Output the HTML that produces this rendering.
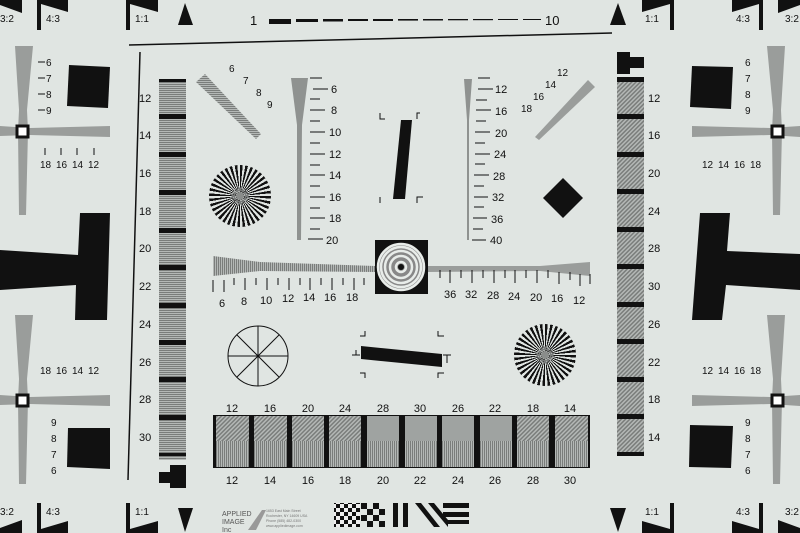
<!DOCTYPE html>
<html><head><meta charset="utf-8"><style>
html,body{margin:0;padding:0;background:#e0e5e2;}
body{position:relative;width:800px;height:533px;overflow:hidden}
svg{display:block}
text{font-family:"Liberation Sans",sans-serif;fill:#111}
.star{position:absolute;border-radius:50%;background:repeating-conic-gradient(#111 0deg 5deg,#e0e5e2 5deg 10deg)}
.star::after{content:"";position:absolute;left:50%;top:50%;width:8px;height:8px;margin:-4px;border-radius:50%;background:#8a8d8b}
</style></head><body>
<svg width="800" height="533" viewBox="0 0 800 533" xmlns="http://www.w3.org/2000/svg">
<defs>
<pattern id="hs" width="4" height="2" patternUnits="userSpaceOnUse"><rect width="4" height="2" fill="#b4b8b6"/><rect width="4" height="1" fill="#7a7d7b"/></pattern>
<pattern id="vs" width="2" height="4" patternUnits="userSpaceOnUse"><rect width="2" height="4" fill="#b4b8b6"/><rect width="1" height="4" fill="#7a7d7b"/></pattern>
<pattern id="ds" width="3" height="3" patternUnits="userSpaceOnUse" patternTransform="rotate(45)"><rect width="3" height="3" fill="#b4b8b6"/><rect width="1.5" height="3" fill="#7a7d7b"/></pattern>
<pattern id="chk" width="8" height="8" patternUnits="userSpaceOnUse"><rect width="8" height="8" fill="#eee"/><rect width="4" height="4" fill="#111"/><rect x="4" y="4" width="4" height="4" fill="#111"/></pattern>
</defs>
<rect width="800" height="533" fill="#e0e5e2"/>

<g fill="#111">
<polygon points="0,0 22,0 22,13 0,5"/><text x="0" y="22" font-size="10">3:2</text>
<rect x="37" y="0" width="4" height="30"/><polygon points="41,0 68,0 68,12 41,4"/><text x="46" y="22" font-size="10">4:3</text>
<rect x="126" y="0" width="4" height="30"/><polygon points="130,0 158,0 158,12 130,4"/><text x="135" y="22" font-size="10">1:1</text>
<polygon points="185,3 178,25 193,25"/>
<polygon points="618,3 610,25 626,25"/>
<rect x="670" y="0" width="4" height="30"/><polygon points="670,0 642,0 642,12 670,4"/><text x="645" y="22" font-size="10">1:1</text>
<rect x="759" y="0" width="4" height="30"/><polygon points="759,0 732,0 732,12 759,4"/><text x="736" y="22" font-size="10">4:3</text>
<polygon points="800,0 778,0 778,13 800,5"/><text x="785" y="22" font-size="10">3:2</text>
<polygon points="0,533 22,533 22,520 0,528"/><text x="0" y="515" font-size="10">3:2</text>
<rect x="37" y="503" width="4" height="30"/><polygon points="41,533 68,533 68,521 41,529"/><text x="46" y="515" font-size="10">4:3</text>
<rect x="126" y="503" width="4" height="30"/><polygon points="130,533 158,533 158,521 130,529"/><text x="135" y="515" font-size="10">1:1</text>
<polygon points="178,508 193,508 185,532"/>
<polygon points="610,508 626,508 618,532"/>
<rect x="670" y="503" width="4" height="30"/><polygon points="670,533 642,533 642,521 670,529"/><text x="645" y="515" font-size="10">1:1</text>
<rect x="759" y="503" width="4" height="30"/><polygon points="759,533 732,533 732,521 759,529"/><text x="736" y="515" font-size="10">4:3</text>
<polygon points="800,533 778,533 778,520 800,528"/><text x="785" y="515" font-size="10">3:2</text>
</g>
<text x="250" y="25" font-size="13">1</text><text x="545" y="25" font-size="13">10</text>
<g fill="#111"><rect x="269" y="19" width="22" height="5"/><rect x="296" y="19" width="22" height="3"/><rect x="323" y="19" width="20" height="2.5"/><rect x="348" y="19" width="20" height="2"/><rect x="373" y="19" width="20" height="2"/><rect x="398" y="19" width="20" height="1.6"/><rect x="423" y="19" width="20" height="1.5"/><rect x="448" y="19" width="20" height="1.3"/><rect x="473" y="19" width="20" height="1.2"/><rect x="498" y="19" width="20" height="1"/><rect x="523" y="19" width="18" height="1"/></g>
<line x1="129" y1="45" x2="612" y2="33" stroke="#111" stroke-width="1.5"/>
<line x1="140" y1="52" x2="128" y2="480" stroke="#111" stroke-width="1.5"/>

<rect x="159" y="79" width="27" height="381" fill="url(#hs)"/>
<g fill="#111"><rect x="159" y="79" width="27" height="3"/><rect x="159" y="114" width="27" height="5"/><rect x="159" y="152" width="27" height="5"/><rect x="159" y="190" width="27" height="5"/><rect x="159" y="228" width="27" height="5"/><rect x="159" y="265" width="27" height="5"/><rect x="159" y="303" width="27" height="5"/><rect x="159" y="340" width="27" height="5"/><rect x="159" y="377" width="27" height="5"/><rect x="159" y="415" width="27" height="5"/><rect x="159" y="453" width="27" height="3"/>
<polygon points="159,472 170,472 170,465 186,465 186,488 170,488 170,483 159,483"/></g>
<g font-size="11"><text x="139" y="102">12</text><text x="139" y="139">14</text><text x="139" y="177">16</text><text x="139" y="215">18</text><text x="139" y="252">20</text><text x="139" y="290">22</text><text x="139" y="328">24</text><text x="139" y="366">26</text><text x="139" y="403">28</text><text x="139" y="441">30</text></g>

<rect x="617" y="77" width="27" height="378" fill="url(#ds)"/>
<g fill="#111"><rect x="617" y="77" width="27" height="5"/><rect x="617" y="114" width="27" height="5"/><rect x="617" y="152" width="27" height="5"/><rect x="617" y="189" width="27" height="5"/><rect x="617" y="227" width="27" height="5"/><rect x="617" y="264" width="27" height="5"/><rect x="617" y="302" width="27" height="5"/><rect x="617" y="339" width="27" height="5"/><rect x="617" y="377" width="27" height="5"/><rect x="617" y="414" width="27" height="5"/><rect x="617" y="452" width="27" height="4"/>
<polygon points="617,52 630,52 630,57 644,57 644,68 630,68 630,74 617,74"/></g>
<g font-size="11"><text x="648" y="102">12</text><text x="648" y="139">16</text><text x="648" y="177">20</text><text x="648" y="215">24</text><text x="648" y="252">28</text><text x="648" y="290">30</text><text x="648" y="328">26</text><text x="648" y="366">22</text><text x="648" y="403">18</text><text x="648" y="441">14</text></g>

<g id="crossL">
<polygon points="15,46 33,46 27,110 28,131 26,215 19,215 18,131 19,110" fill="#9a9d9b"/>
<polygon points="0,126 30,128 110,126 110,137 30,135 0,136" fill="#9a9d9b"/>
<rect x="17" y="126" width="11" height="11" fill="#fff" stroke="#111" stroke-width="3"/>
</g>
<g font-size="10"><text x="46" y="66">6</text><text x="46" y="82">7</text><text x="46" y="98">8</text><text x="46" y="114">9</text>
<text x="40" y="168">18</text><text x="56" y="168">16</text><text x="72" y="168">14</text><text x="88" y="168">12</text></g>
<g stroke="#111"><line x1="38" y1="62" x2="45" y2="62"/><line x1="38" y1="78" x2="45" y2="78"/><line x1="38" y1="94" x2="45" y2="94"/><line x1="38" y1="110" x2="45" y2="110"/>
<line x1="45" y1="148" x2="45" y2="155"/><line x1="61" y1="148" x2="61" y2="155"/><line x1="77" y1="148" x2="77" y2="155"/><line x1="94" y1="148" x2="94" y2="155"/></g>
<use href="#crossL" transform="translate(0,269)"/>
<g font-size="10"><text x="40" y="374">18</text><text x="56" y="374">16</text><text x="72" y="374">14</text><text x="88" y="374">12</text>
<text x="51" y="426">9</text><text x="51" y="442">8</text><text x="51" y="458">7</text><text x="51" y="474">6</text></g>
<polygon points="69,65 110,67 108,108 67,106" fill="#111"/>
<polygon points="68,428 110,428 110,469 67,467" fill="#111"/>
<polygon points="80,213 110,213 107,320 75,320 76,285 0,290 0,250 78,255" fill="#111"/>

<g id="crossR">
<polygon points="767,46 785,46 781,110 782,131 780,215 773,215 772,131 773,110" fill="#9a9d9b"/>
<polygon points="692,126 770,128 800,126 800,137 770,135 692,137" fill="#9a9d9b"/>
<rect x="772" y="126" width="11" height="11" fill="#fff" stroke="#111" stroke-width="3"/>
</g>
<g font-size="10"><text x="745" y="66">6</text><text x="745" y="82">7</text><text x="745" y="98">8</text><text x="745" y="114">9</text>
<text x="702" y="168">12</text><text x="718" y="168">14</text><text x="734" y="168">16</text><text x="750" y="168">18</text></g>
<use href="#crossR" transform="translate(0,269)"/>
<g font-size="10"><text x="702" y="374">12</text><text x="718" y="374">14</text><text x="734" y="374">16</text><text x="750" y="374">18</text>
<text x="745" y="426">9</text><text x="745" y="442">8</text><text x="745" y="458">7</text><text x="745" y="474">6</text></g>
<polygon points="692,66 733,67 731,109 690,107" fill="#111"/>
<polygon points="690,425 733,426 731,468 689,467" fill="#111"/>
<polygon points="700,213 730,213 727,251 800,254 800,290 726,285 722,320 692,320" fill="#111"/>

<polygon points="196,82 205,74 261,134 256,139" fill="url(#hs)"/>
<g font-size="10"><text x="229" y="72">6</text><text x="243" y="84">7</text><text x="256" y="96">8</text><text x="267" y="108">9</text></g>
<polygon points="535,137 539,140 595,87 588,80" fill="#9a9d9b"/>
<g font-size="10"><text x="557" y="76">12</text><text x="545" y="88">14</text><text x="533" y="100">16</text><text x="521" y="112">18</text></g>
<polygon points="291,78 308,78 302,125 301,240 297,240 297,125" fill="#8f9290"/>
<g stroke="#111"><line x1="310" y1="78" x2="322" y2="78"/><line x1="313" y1="89" x2="328" y2="89"/><line x1="310" y1="99" x2="320" y2="99"/><line x1="310" y1="110" x2="325" y2="110"/><line x1="310" y1="121" x2="320" y2="121"/><line x1="310" y1="132" x2="325" y2="132"/><line x1="310" y1="143" x2="320" y2="143"/><line x1="310" y1="154" x2="325" y2="154"/><line x1="310" y1="165" x2="320" y2="165"/><line x1="310" y1="175" x2="325" y2="175"/><line x1="310" y1="186" x2="320" y2="186"/><line x1="310" y1="197" x2="325" y2="197"/><line x1="310" y1="208" x2="320" y2="208"/><line x1="310" y1="218" x2="325" y2="218"/><line x1="310" y1="229" x2="320" y2="229"/><line x1="308" y1="239" x2="323" y2="239"/></g>
<g font-size="11"><text x="331" y="93">6</text><text x="331" y="114">8</text><text x="329" y="136">10</text><text x="329" y="158">12</text><text x="329" y="179">14</text><text x="329" y="201">16</text><text x="329" y="222">18</text><text x="326" y="244">20</text></g>
<polygon points="464,79 472,79 469,120 469,240 467,240 467,120" fill="#8f9290"/>
<g stroke="#111"><line x1="478" y1="78" x2="490" y2="78"/><line x1="478" y1="89" x2="493" y2="89"/><line x1="476" y1="100" x2="487" y2="100"/><line x1="476" y1="110" x2="491" y2="110"/><line x1="476" y1="121" x2="486" y2="121"/><line x1="475" y1="132" x2="490" y2="132"/><line x1="475" y1="143" x2="485" y2="143"/><line x1="475" y1="154" x2="490" y2="154"/><line x1="475" y1="164" x2="485" y2="164"/><line x1="474" y1="175" x2="489" y2="175"/><line x1="474" y1="186" x2="484" y2="186"/><line x1="474" y1="197" x2="488" y2="197"/><line x1="474" y1="207" x2="484" y2="207"/><line x1="473" y1="218" x2="487" y2="218"/><line x1="473" y1="229" x2="483" y2="229"/><line x1="472" y1="240" x2="486" y2="240"/></g>
<g font-size="11"><text x="495" y="93">12</text><text x="495" y="115">16</text><text x="495" y="137">20</text><text x="494" y="158">24</text><text x="493" y="180">28</text><text x="492" y="201">32</text><text x="491" y="223">36</text><text x="490" y="244">40</text></g>

<polygon points="401,120 412,120 405,199 393,199" fill="#111"/>
<g stroke="#111" fill="none"><path d="M380,113 v6 h5"/><path d="M420,113 h-3 v6"/><path d="M417,203 v-6 h6"/><path d="M380,203 v-6"/></g>
<polygon points="563,178 583,198 563,218 543,198" fill="#111"/>

<polygon points="213,256 260,262 375,266 375,272 260,271 213,276" fill="url(#vs)"/>
<polygon points="428,266 540,266 590,262 590,276 540,271 428,272" fill="#9a9d9b"/>
<g stroke="#111">
<line x1="213" y1="280" x2="213" y2="292"/><line x1="224" y1="280" x2="224" y2="292"/><line x1="234" y1="278" x2="234" y2="285"/><line x1="245" y1="278" x2="245" y2="290"/><line x1="256" y1="278" x2="256" y2="285"/><line x1="267" y1="278" x2="267" y2="290"/><line x1="278" y1="278" x2="278" y2="285"/><line x1="289" y1="278" x2="289" y2="290"/><line x1="300" y1="278" x2="300" y2="285"/><line x1="310" y1="278" x2="310" y2="290"/><line x1="321" y1="278" x2="321" y2="285"/><line x1="332" y1="278" x2="332" y2="290"/><line x1="343" y1="278" x2="343" y2="285"/><line x1="354" y1="278" x2="354" y2="290"/><line x1="364" y1="278" x2="364" y2="285"/>
<line x1="440" y1="270" x2="440" y2="278"/><line x1="450" y1="270" x2="450" y2="283"/><line x1="461" y1="270" x2="461" y2="278"/><line x1="472" y1="270" x2="472" y2="283"/><line x1="483" y1="270" x2="483" y2="278"/><line x1="494" y1="270" x2="494" y2="283"/><line x1="505" y1="270" x2="505" y2="278"/><line x1="515" y1="270" x2="515" y2="283"/><line x1="526" y1="270" x2="526" y2="278"/><line x1="537" y1="270" x2="537" y2="283"/><line x1="548" y1="270" x2="548" y2="278"/><line x1="559" y1="272" x2="559" y2="284"/><line x1="570" y1="272" x2="570" y2="280"/><line x1="580" y1="274" x2="580" y2="286"/><line x1="590" y1="274" x2="590" y2="284"/></g>
<g font-size="11"><text x="219" y="307">6</text><text x="241" y="305">8</text><text x="260" y="304">10</text><text x="282" y="302">12</text><text x="303" y="301">14</text><text x="324" y="301">16</text><text x="346" y="301">18</text>
<text x="444" y="298">36</text><text x="465" y="298">32</text><text x="487" y="299">28</text><text x="508" y="300">24</text><text x="530" y="301">20</text><text x="551" y="302">16</text><text x="573" y="304">12</text></g>
<rect x="375" y="240" width="53" height="54" fill="#111"/>
<circle cx="401" cy="267" r="24" fill="#888"/>
<g fill="none" stroke="#e8ece9" stroke-width="2.5"><circle cx="401" cy="267" r="5"/><circle cx="401" cy="267" r="11"/><circle cx="401" cy="267" r="16"/><circle cx="401" cy="267" r="20"/><circle cx="401" cy="267" r="23"/></g>
<circle cx="401" cy="267" r="3" fill="#111"/>
<g fill="none" stroke="#111" stroke-width="1"><circle cx="258" cy="356" r="30"/>
<line x1="228" y1="356" x2="288" y2="356"/><line x1="258" y1="326" x2="258" y2="386"/><line x1="237" y1="335" x2="279" y2="377"/><line x1="279" y1="335" x2="237" y2="377"/></g>
<polygon points="361,346 442,354 442,367 361,359" fill="#111"/>
<g stroke="#111" fill="none"><path d="M360,336 h5 v-5"/><path d="M438,331 v5 h6"/><path d="M360,373 h5 v5"/><path d="M438,378 v-5 h6"/><path d="M352,355 h8 M356,350 v5"/><path d="M443,355 h8 M447,355 v8"/></g>

<rect x="213" y="415" width="377" height="53" fill="#111"/>
<g>
<rect x="216" y="416" width="33" height="25" fill="url(#ds)"/><rect x="216" y="441" width="33" height="26" fill="url(#vs)"/>
<rect x="254" y="416" width="33" height="25" fill="url(#ds)"/><rect x="254" y="441" width="33" height="26" fill="url(#vs)"/>
<rect x="292" y="416" width="32" height="25" fill="url(#ds)"/><rect x="292" y="441" width="32" height="26" fill="url(#vs)"/>
<rect x="329" y="416" width="32" height="25" fill="url(#ds)"/><rect x="329" y="441" width="32" height="26" fill="url(#vs)"/>
<rect x="367" y="416" width="32" height="25" fill="#9fa3a1"/><rect x="367" y="441" width="32" height="26" fill="url(#vs)"/>
<rect x="405" y="416" width="32" height="25" fill="#9fa3a1"/><rect x="405" y="441" width="32" height="26" fill="url(#vs)"/>
<rect x="442" y="416" width="32" height="25" fill="#9fa3a1"/><rect x="442" y="441" width="32" height="26" fill="url(#vs)"/>
<rect x="480" y="416" width="32" height="25" fill="#9fa3a1"/><rect x="480" y="441" width="32" height="26" fill="url(#vs)"/>
<rect x="517" y="416" width="32" height="25" fill="url(#ds)"/><rect x="517" y="441" width="32" height="26" fill="url(#vs)"/>
<rect x="555" y="416" width="33" height="25" fill="url(#ds)"/><rect x="555" y="441" width="33" height="26" fill="url(#vs)"/>
</g>
<g font-size="11" text-anchor="middle"><text x="232" y="412">12</text><text x="270" y="412">16</text><text x="308" y="412">20</text><text x="345" y="412">24</text><text x="383" y="412">28</text><text x="420" y="412">30</text><text x="458" y="412">26</text><text x="495" y="412">22</text><text x="533" y="412">18</text><text x="570" y="412">14</text>
<text x="232" y="484">12</text><text x="270" y="484">14</text><text x="308" y="484">16</text><text x="345" y="484">18</text><text x="383" y="484">20</text><text x="420" y="484">22</text><text x="458" y="484">24</text><text x="495" y="484">26</text><text x="533" y="484">28</text><text x="570" y="484">30</text></g>

<g font-size="7"><text x="222" y="516" style="fill:#555">APPLIED</text><text x="222" y="524" style="fill:#555">IMAGE</text><text x="222" y="532" style="fill:#555">Inc</text></g>
<polygon points="248,530 262,510 266,510 256,530" fill="#999"/>
<g font-size="3.5"><text x="266" y="512" style="fill:#777">1653 East Main Street</text><text x="266" y="517" style="fill:#777">Rochester, NY 14609 USA</text><text x="266" y="522" style="fill:#777">Phone (585) 482-0300</text><text x="266" y="527" style="fill:#777">www.appliedimage.com</text></g>
<rect x="334" y="503" width="26" height="24" fill="url(#chk)"/>
<g fill="#111"><rect x="361" y="503" width="6" height="6"/><rect x="373" y="503" width="6" height="6"/><rect x="367" y="509" width="6" height="6"/><rect x="379" y="509" width="6" height="6"/><rect x="361" y="515" width="6" height="6"/><rect x="373" y="515" width="6" height="6"/><rect x="367" y="521" width="6" height="6"/><rect x="379" y="521" width="6" height="6"/>
<rect x="393" y="503" width="5" height="24"/><rect x="403" y="503" width="5" height="24"/>
<polygon points="415,503 421,503 440,527 434,527"/><polygon points="428,503 434,503 448,520 448,527"/>
<rect x="443" y="503" width="26" height="5"/><rect x="443" y="512" width="26" height="5"/><rect x="447" y="520" width="22" height="4"/></g>
</svg>
<div class="star" style="left:209px;top:165px;width:62px;height:62px"></div>
<div class="star" style="left:514px;top:324px;width:62px;height:62px"></div>
</body></html>
